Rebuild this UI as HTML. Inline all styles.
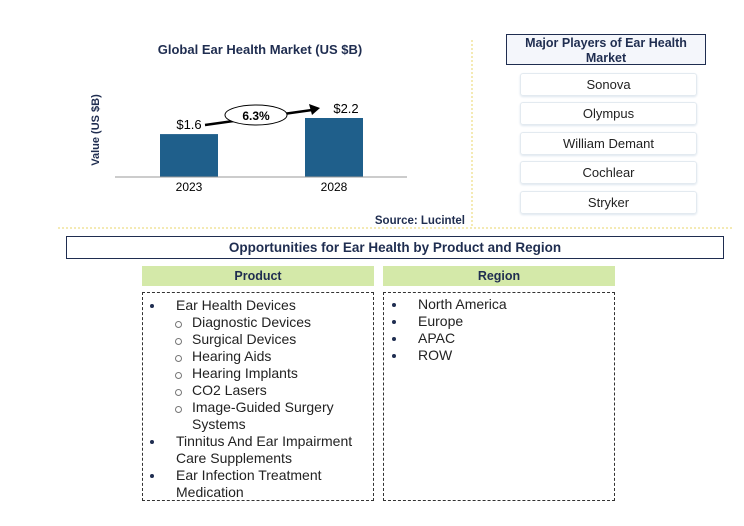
<!DOCTYPE html>
<html><head><meta charset="utf-8"><style>
body{margin:0;width:744px;height:526px;background:#fff;position:relative;overflow:hidden;font-family:"Liberation Sans",sans-serif;}
.a{position:absolute;}
.pl{position:absolute;left:520px;width:175px;height:21px;border:1px solid #e3eaf0;border-radius:3px;box-shadow:0 1px 2px #dde6ee;text-align:center;font-size:13px;line-height:21px;color:#222;}
.li{position:absolute;font-size:14px;color:#222;line-height:17px;white-space:nowrap;}
.b{position:absolute;width:4px;height:4px;border-radius:50%;background:#1f2d50;}
.c{position:absolute;width:5px;height:5px;border-radius:50%;border:1px solid #777;}
</style></head><body>
<svg class="a" style="left:0;top:0" width="744" height="526">
<text x="260" y="54" text-anchor="middle" font-size="13" font-weight="bold" fill="#1f2d50" font-family="Liberation Sans">Global Ear Health Market (US $B)</text>
<text transform="translate(99,130) rotate(-90)" text-anchor="middle" font-size="11" font-weight="bold" fill="#1f2d50" font-family="Liberation Sans">Value (US $B)</text>
<g id="bars"></g>
<line x1="115" y1="177" x2="407" y2="177" stroke="#999" stroke-width="1"/>
<line x1="205" y1="125" x2="312" y2="110" stroke="#000" stroke-width="2.5"/>
<polygon points="320,108 309,104 312,115" fill="#000"/>
<ellipse cx="256" cy="115" rx="31" ry="10" fill="#fff" stroke="#000" stroke-width="1"/>
<text x="256" y="120" text-anchor="middle" font-size="12" font-weight="bold" fill="#000" font-family="Liberation Sans">6.3%</text>
<text x="465" y="224" text-anchor="end" font-size="11.5" font-weight="bold" fill="#1f2d50" font-family="Liberation Sans">Source: Lucintel</text>
<line x1="472" y1="40" x2="472" y2="226" stroke="#e8d46a" stroke-dasharray="2,2"/>
<line x1="58" y1="228" x2="732" y2="228" stroke="#e8d46a" stroke-dasharray="2,2"/>
</svg>
<script>
const categories=["2023","2028"];
const values=[1.6,2.2];
const valueLabels=["$1.6","$2.2"];
const g=document.getElementById('bars');
const ns="http://www.w3.org/2000/svg";
const base=177, scale=(177-118)/2.2;
const xPos=i=>160+i*145;
categories.forEach((c,i)=>{
 const h=values[i]*scale;
 const r=document.createElementNS(ns,'rect');
 
 
 r.setAttribute('x',xPos(i));r.setAttribute('y',base-h);r.setAttribute('width',58);r.setAttribute('height',h);r.setAttribute('fill','#1f5f8b');
 g.appendChild(r);
 const t=document.createElementNS(ns,'text');
 
 
 t.setAttribute('x',xPos(i)+29);t.setAttribute('y',191);t.setAttribute('text-anchor','middle');t.setAttribute('font-size','12');t.setAttribute('font-family','Liberation Sans');
 t.textContent=c;g.appendChild(t);
 const v=document.createElementNS(ns,'text');
 
 
 v.setAttribute('x',i==0?xPos(i)+29:xPos(i)+41);v.setAttribute('y',base-h-5);v.setAttribute('text-anchor','middle');v.setAttribute('font-size','13');v.setAttribute('font-family','Liberation Sans');
 v.textContent=valueLabels[i];g.appendChild(v);
});
</script>
<div class="a" style="left:506px;top:34px;width:200px;height:31px;border:1px solid #1f2d50;background:#f4f6fb;text-align:center;font-size:12.5px;font-weight:bold;color:#1f2d50;line-height:15px;padding-top:1px;box-sizing:border-box">Major Players of Ear Health Market</div>
<div class="pl" style="top:73px">Sonova</div>
<div class="pl" style="top:102px">Olympus</div>
<div class="pl" style="top:132px">William Demant</div>
<div class="pl" style="top:161px">Cochlear</div>
<div class="pl" style="top:191px">Stryker</div>
<div class="a" style="left:66px;top:236px;width:658px;height:23px;border:1px solid #1f2d50;box-sizing:border-box;text-align:center;font-size:13.5px;font-weight:bold;color:#1f2d50;line-height:21px">Opportunities for Ear Health by Product and Region</div>
<div class="a" style="left:142px;top:266px;width:232px;height:20px;background:#d4e9a9;text-align:center;font-size:12.5px;font-weight:bold;color:#1f2d50;line-height:20px">Product</div>
<div class="a" style="left:383px;top:266px;width:232px;height:20px;background:#d4e9a9;text-align:center;font-size:12.5px;font-weight:bold;color:#1f2d50;line-height:20px">Region</div>
<div class="a" style="left:142px;top:292px;width:232px;height:209px;border:1px dashed #333;box-sizing:border-box"></div>
<div class="a" style="left:383px;top:292px;width:232px;height:209px;border:1px dashed #333;box-sizing:border-box"></div>
<div class="b" style="left:150px;top:304px"></div><div class="li" style="left:176px;top:297px">Ear Health Devices</div>
<div class="c" style="left:175px;top:321px"></div><div class="li" style="left:192px;top:314px">Diagnostic Devices</div>
<div class="c" style="left:175px;top:338px"></div><div class="li" style="left:192px;top:331px">Surgical Devices</div>
<div class="c" style="left:175px;top:355px"></div><div class="li" style="left:192px;top:348px">Hearing Aids</div>
<div class="c" style="left:175px;top:372px"></div><div class="li" style="left:192px;top:365px">Hearing Implants</div>
<div class="c" style="left:175px;top:389px"></div><div class="li" style="left:192px;top:382px">CO2 Lasers</div>
<div class="c" style="left:175px;top:406px"></div><div class="li" style="left:192px;top:399px">Image-Guided Surgery<br>Systems</div>
<div class="b" style="left:150px;top:440px"></div><div class="li" style="left:176px;top:433px">Tinnitus And Ear Impairment<br>Care Supplements</div>
<div class="b" style="left:150px;top:474px"></div><div class="li" style="left:176px;top:467px">Ear Infection Treatment<br>Medication</div>
<div class="b" style="left:392px;top:303px"></div><div class="li" style="left:418px;top:296px">North America</div>
<div class="b" style="left:392px;top:320px"></div><div class="li" style="left:418px;top:313px">Europe</div>
<div class="b" style="left:392px;top:337px"></div><div class="li" style="left:418px;top:330px">APAC</div>
<div class="b" style="left:392px;top:354px"></div><div class="li" style="left:418px;top:347px">ROW</div>
</body></html>
